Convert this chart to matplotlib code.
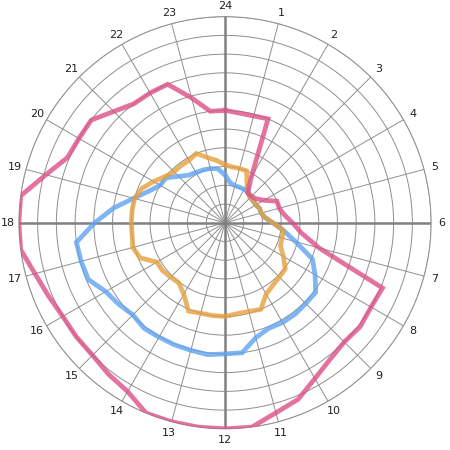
import numpy as np
import matplotlib
matplotlib.use("Agg")
import matplotlib.pyplot as plt

# half-hour steps around the clock, 24 at the top
hours = [i / 2 for i in range(48)]
hour_labels = ["24"] + [str(h) for h in range(1, 24)]

pink = [60, 59, 59, 60, 28, 20, 20, 21, 24, 30, 30, 32, 36, 41, 52, 91,
        90, 91, 90, 92, 96, 102, 105, 110, 110, 110, 110, 110, 104, 102, 100, 100,
        100, 102, 105, 110, 110, 110, 99, 91, 90, 90, 84, 80, 80, 80, 69, 60]
blue = [25.5, 21.5, 20.5, 20.5, 20.5, 20.5, 19, 19, 19, 20, 20, 21.5, 25.5, 31.5, 39, 50.5,
        55.5, 61, 61, 61.5, 61.5, 61, 63.5, 70, 70, 71, 70.5, 70.5, 70.5, 71, 69.5, 71.5,
        73.5, 79, 79.5, 80, 69.5, 60, 50.5, 44, 40, 39.5, 35, 32, 31, 30.5, 30, 29]
orange = [31, 30, 30, 30, 23.5, 20, 19, 19, 19, 20, 20, 21.5, 25.5, 31.5, 31.5, 32,
          36, 40.5, 41, 42, 44, 50, 49, 49, 50, 50, 50, 51, 44, 40.5, 41, 42,
          42, 49, 51, 50, 50, 50, 50, 48, 44, 40.5, 38.5, 38.5, 38.5, 40, 36, 33.5]

series = [(blue, "#5fa3f0"), (orange, "#e59f3c"), (pink, "#dc4f86")]


def closed(vals):
    return list(vals) + [vals[0]]


fig = plt.figure(figsize=(4.5, 4.5), dpi=100)
ax = fig.add_axes([0.042, 0.047, 0.916, 0.916], projection="polar")
ax.set_theta_zero_location("N")
ax.set_theta_direction(-1)

theta = np.deg2rad(np.array(hours) * 15)
theta_c = closed(list(theta))
for vals, col in series:
    ax.plot(theta_c, closed(vals), color=col, lw=3.4, alpha=0.8,
            solid_joinstyle="miter", zorder=3)

ax.set_ylim(0, 110)
ax.set_yticks(np.arange(10, 111, 10))
ax.set_yticklabels([])
ax.set_thetagrids(np.arange(0, 360, 15), hour_labels, fontsize=8)
ax.tick_params(axis="x", pad=-2.5, colors="#222222")
ax.grid(True, color="#8f8f8f", lw=0.7)
ax.spines["polar"].set_color("#8f8f8f")
ax.spines["polar"].set_linewidth(0.7)

# darker main axes
for a in [0, 90, 180, 270]:
    ax.axvline(np.deg2rad(a), color="#808080", lw=1.8, zorder=2)

fig.savefig("out.png", dpi=100)
